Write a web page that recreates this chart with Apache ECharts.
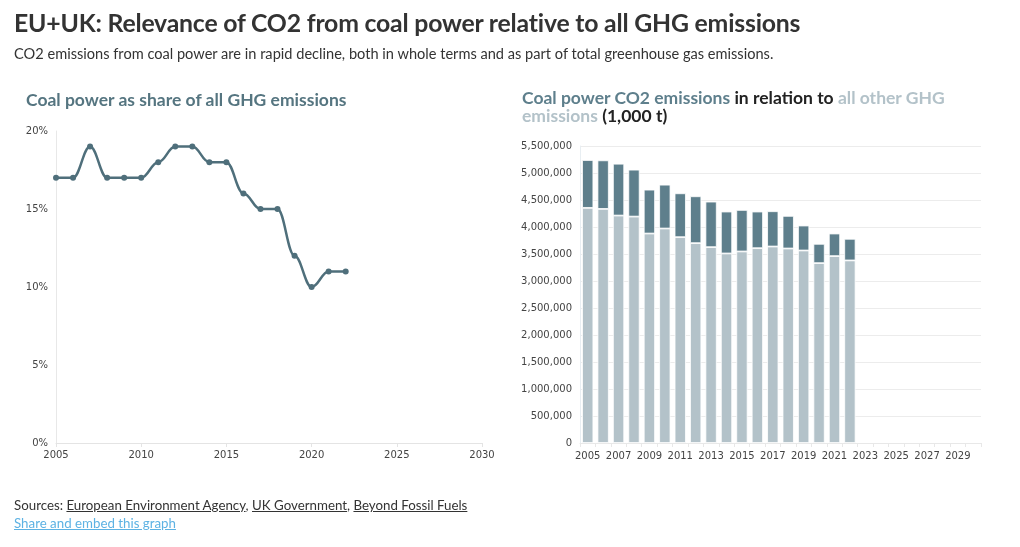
<!DOCTYPE html>
<html><head><meta charset="utf-8">
<script src="https://cdn.jsdelivr.net/npm/echarts@6/dist/echarts.min.js"></script>
<style>
html,body{margin:0;padding:0;background:#fff;width:1020px;height:547px;overflow:hidden;font-family:"Lato","Noto Sans",sans-serif;color:#333}
#chart{position:absolute;left:0;top:0;width:1020px;height:547px}
.t{position:absolute;white-space:nowrap}
#title{left:14px;top:8px;font-size:24.8px;font-weight:700;color:#333;letter-spacing:-0.2px}
#sub{left:14px;top:45px;font-size:14.6px;color:#333}
#lt{left:26px;top:89px;font-size:17.5px;font-weight:700;color:#557580}
#rt{left:522px;top:89px;font-size:17.5px;font-weight:700;color:#222;white-space:normal;width:440px;line-height:18px}
#src{left:14px;top:497px;font-size:13.3px;color:#333}
#src u{text-decoration:underline}
#share{left:14px;top:515px;font-size:13.3px;color:#5db2e3;text-decoration:underline}
</style></head><body>
<div id="chart"></div>
<div class="t" id="title">EU+UK: Relevance of CO2 from coal power relative to all GHG emissions</div>
<div class="t" id="sub">CO2 emissions from coal power are in rapid decline, both in whole terms and as part of total greenhouse gas emissions.</div>
<div class="t" id="lt">Coal power as share of all GHG emissions</div>
<div class="t" id="rt"><span style="color:#5e7f8c">Coal power CO2 emissions</span> in relation to <span style="color:#b3c2c9">all other GHG emissions</span> (1,000 t)</div>
<div class="t" id="src">Sources: <u>European Environment Agency</u>, <u>UK Government</u>, <u>Beyond Fossil Fuels</u></div>
<div class="t" id="share">Share and embed this graph</div>
<script>
// Data
const shareYears = [2005,2006,2007,2008,2009,2010,2011,2012,2013,2014,2015,2016,2017,2018,2019,2020,2021,2022];
const coalShare = [17,17,19,17,17,17,18,19,19,18,18,16,15,15,12,10,11,11];
const barYears = ['2005','2006','2007','2008','2009','2010','2011','2012','2013','2014','2015','2016','2017','2018','2019','2020','2021','2022','2023','2024','2025','2026','2027','2028','2029','2030'];
const otherGHG = [4354000,4335000,4212000,4193000,3879000,3972000,3812000,3701000,3627000,3510000,3547000,3608000,3639000,3602000,3565000,3331000,3461000,3381000];
const coalCO2 = [886000,899000,960000,869000,813000,812000,812000,868000,843000,776000,769000,678000,653000,604000,462000,357000,418000,400000];

const chart = echarts.init(document.getElementById('chart'));
const axisFont = {fontFamily:'DejaVu Sans', fontSize:10, color:'#444'};
chart.setOption({
  animation:false,
  grid:[
    {left:56, top:131, width:426, height:312},
    {left:580, top:146, width:401, height:297}
  ],
  xAxis:[
    {gridIndex:0, type:'value', min:2005, max:2030, interval:5,
     axisLine:{show:true, lineStyle:{color:'#e4e4e4'}},
     axisTick:{show:true, length:4, lineStyle:{color:'#e4e4e4'}},
     splitLine:{show:false},
     axisLabel:Object.assign({margin:7, formatter:v=>String(v)}, axisFont)},
    {gridIndex:1, type:'category', data:barYears, boundaryGap:true,
     axisLine:{show:true, lineStyle:{color:'#e8e8e8'}},
     axisTick:{show:true, interval:0, length:4, lineStyle:{color:'#e8e8e8'}},
     axisLabel:Object.assign({margin:8, interval:1}, axisFont)}
  ],
  yAxis:[
    {gridIndex:0, type:'value', min:0, max:20, interval:5,
     axisLine:{show:true, lineStyle:{color:'#e8e8e8'}},
     axisTick:{show:false},
     splitLine:{show:false},
     axisLabel:Object.assign({margin:8, formatter:'{value}%'}, axisFont)},
    {gridIndex:1, type:'value', min:0, max:5500000, interval:500000,
     axisLine:{show:true, lineStyle:{color:'#e8eef2'}},
     axisTick:{show:false},
     splitLine:{show:true, lineStyle:{color:'#ececec'}},
     axisLabel:Object.assign({margin:8, formatter:v=>v.toLocaleString('en-US')}, axisFont)}
  ],
  series:[
    {type:'line', xAxisIndex:0, yAxisIndex:0,
     data:shareYears.map((y,i)=>[y,coalShare[i]]),
     smooth:0.4, smoothMonotone:'x',
     symbol:'circle', symbolSize:6,
     lineStyle:{color:'#4f6f7b', width:2.5},
     itemStyle:{color:'#4f6f7b'}},
    {type:'bar', xAxisIndex:1, yAxisIndex:1, stack:'a', data:otherGHG,
     barCategoryGap:'27%',
     itemStyle:{color:'#b3c2c9', borderColor:'#fff', borderWidth:0.8}},
    {type:'bar', xAxisIndex:1, yAxisIndex:1, stack:'a', data:coalCO2,
     barCategoryGap:'27%',
     itemStyle:{color:'#5e7f8c', borderColor:'#fff', borderWidth:0.8}}
  ]
});
</script>
</body></html>
